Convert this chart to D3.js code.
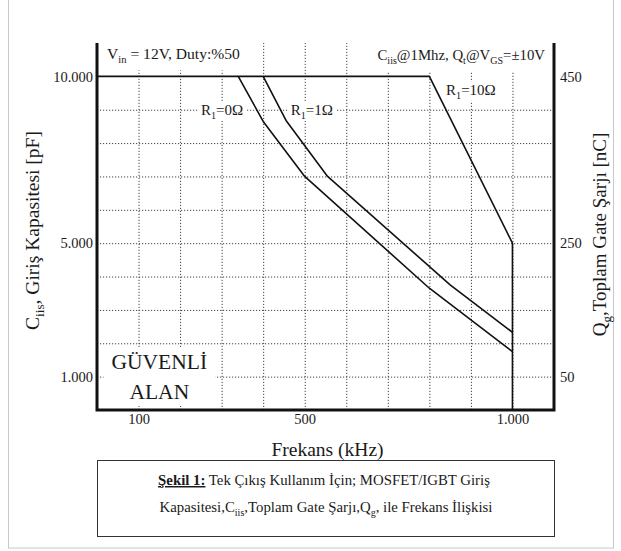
<!DOCTYPE html>
<html lang="tr">
<head>
    <meta charset="UTF-8">
    <title>Şekil 1 - Giriş Kapasitesi / Frekans</title>
    <style>
        body { margin: 0; background: #fff; }
        text { font-family: 'Liberation Serif', 'Times New Roman', serif; fill: #1a1a1a; }
        .grid line { stroke: #444; stroke-width: 1; stroke-dasharray: 1.2 1.8; }
        .grid .domain { display: none; }
        .axis .domain { display: none; }
        .axis text { font-size: 14.5px; }
        .curve { fill: none; stroke: #111; stroke-width: 1.6; stroke-linejoin: round; }
        .frame { fill: none; stroke: #111; stroke-width: 3; }
    </style>
</head>
<body>
    <svg width="621" height="551"></svg>
    <script src="https://d3js.org/d3.v7.min.js"></script>
    <script>

        // ticks and labels
        const freqTicks = [100, 500, 1000];
        const freqLabels = ['100', '500', '1.000'];
        const capTicks = [1000, 5000, 10000];
        const capLabels = ['1.000', '5.000', '10.000'];
        const chargeLabels = ['50', '250', '450'];
        const gridFreq = [100, 200, 300, 400, 500, 600, 700, 800, 900, 1000];
        const gridCap = [1000, 2000, 3000, 4000, 5000, 6000, 7000, 8000, 9000];

        // curves (kHz, pF)
        const r10Freq = [0, 800, 1000, 1000];
        const r10Cap = [10000, 10000, 5000, 0];
        const r0Freq = [340, 400, 500, 800, 1000];
        const r0Cap = [10000, 8650, 7000, 3650, 1750];
        const r1Freq = [400, 455, 555, 850, 1000];
        const r1Cap = [10000, 8680, 7000, 3750, 2330];

        const margin = { left: 97, right: 67, top: 43, bottom: 141 };
        const svg = d3.select('svg');
        const width = +svg.attr('width');
        const height = +svg.attr('height');
        const innerWidth = width - margin.left - margin.right;
        const innerHeight = height - margin.top - margin.bottom;

        const xScale = d3.scaleLinear().domain([0, 1100]).range([0, innerWidth]);
        const yScale = d3.scaleLinear().domain([0, 11000]).range([innerHeight, 0]);

        // faint page border
        svg.append('rect')
            .attr('x', 8.5).attr('y', -1)
            .attr('width', 605).attr('height', 549)
            .attr('fill', 'none').attr('stroke', '#c8c8c8');

        const group = svg.append('g')
            .attr('transform', 'translate(' + margin.left + ' ' + margin.top + ')');

        // dotted grid
        group.append('g')
            .attr('class', 'grid')
            .attr('transform', 'translate(0 ' + innerHeight + ')')
            .call(d3.axisBottom(xScale).tickValues(gridFreq).tickSize(-innerHeight).tickFormat(''));

        group.append('g')
            .attr('class', 'grid')
            .call(d3.axisLeft(yScale).tickValues(gridCap).tickSize(-innerWidth).tickFormat(''));

        // text with sub-scripts, parts = [[text, 'sub'|'b'|undefined], ...]
        function richText(g, x, y, parts, size, anchor) {
            const t = g.append('text')
                .attr('x', x).attr('y', y)
                .attr('font-size', size)
                .attr('text-anchor', anchor || 'start');
            let shift = 0;
            parts.forEach(function (p) {
                const s = t.append('tspan').text(p[0]);
                const want = p[1] === 'sub' ? size * 0.28 : 0;
                s.attr('dy', want - shift);
                shift = want;
                if (p[1] === 'sub') s.attr('font-size', size * 0.68);
                if (p[1] === 'b') s.attr('font-weight', 'bold').style('text-decoration', 'underline');
            });
            return t;
        }

        // white box under a label
        function whiteBox(g, t, padX, padY) {
            const b = t.node().getBBox();
            g.insert('rect', function () { return t.node(); })
                .attr('x', b.x - padX).attr('y', b.y - padY)
                .attr('width', b.width + 2 * padX).attr('height', b.height + 2 * padY)
                .attr('fill', '#fff');
        }

        const labels = group.append('g');

        const vin = richText(labels, 10, 16, [['V'], ['in', 'sub'], [' = 12V, Duty:%50']], 15.6);
        whiteBox(labels, vin, 6, 5);

        const cond = richText(labels, innerWidth - 9, 17,
            [['C'], ['iis', 'sub'], ['@1Mhz, Q'], ['t', 'sub'], ['@V'], ['GS', 'sub'], ['=±10V']], 14.8, 'end');
        whiteBox(labels, cond, 6, 5);

        const lab0 = richText(labels, xScale(301), yScale(8850), [['R'], ['1', 'sub'], ['=0Ω']], 15, 'middle');
        whiteBox(labels, lab0, 3, 0);
        const lab1 = richText(labels, xScale(517), yScale(8850), [['R'], ['1', 'sub'], ['=1Ω']], 15, 'middle');
        whiteBox(labels, lab1, 3, 0);
        const lab10 = richText(labels, xScale(900), yScale(9450), [['R'], ['1', 'sub'], ['=10Ω']], 15, 'middle');
        whiteBox(labels, lab10, 3, 0);

        const safe = labels.append('text')
            .attr('x', xScale(150)).attr('y', yScale(1230))
            .attr('font-size', 21.5)
            .attr('text-anchor', 'middle');
        safe.append('tspan').attr('x', xScale(150)).text('GÜVENLİ');
        safe.append('tspan').attr('x', xScale(150)).attr('dy', 30).text('ALAN');
        whiteBox(labels, safe, 8, 2);

        // curves
        const line = d3.line()
            .x(function (d) { return xScale(d[0]); })
            .y(function (d) { return yScale(d[1]); });

        group.append('path').attr('class', 'curve').attr('stroke-width', 2)
            .attr('d', line(d3.zip(r10Freq, r10Cap)));
        group.append('path').attr('class', 'curve')
            .attr('d', line(d3.zip(r0Freq, r0Cap)));
        group.append('path').attr('class', 'curve')
            .attr('d', line(d3.zip(r1Freq, r1Cap)));

        // frame: left, bottom, right (open top)
        group.append('path').attr('class', 'frame')
            .attr('d', 'M0,0V' + innerHeight + 'H' + innerWidth + 'V0');

        // axes
        group.append('g')
            .attr('class', 'axis')
            .attr('transform', 'translate(0 ' + innerHeight + ')')
            .call(d3.axisBottom(xScale).tickValues(freqTicks).tickSize(0).tickPadding(4)
                .tickFormat(function (d, i) { return freqLabels[i]; }));

        group.append('g')
            .attr('class', 'axis')
            .call(d3.axisLeft(yScale).tickValues(capTicks).tickSize(0).tickPadding(4)
                .tickFormat(function (d, i) { return capLabels[i]; }));

        group.append('g')
            .attr('class', 'axis')
            .attr('transform', 'translate(' + innerWidth + ' 0)')
            .call(d3.axisRight(yScale).tickValues(capTicks).tickSize(0).tickPadding(6)
                .tickFormat(function (d, i) { return chargeLabels[i]; }));

        // axis titles
        richText(group, innerWidth / 2 + 2, innerHeight + 46, [['Frekans (kHz)']], 19.5, 'middle');

        richText(group.append('g').attr('transform', 'translate(-58 ' + (innerHeight / 2 + 4) + ') rotate(-90)'),
            0, 0, [['C'], ['iis', 'sub'], [', Giriş Kapasitesi [pF]']], 19.5, 'middle');

        richText(group.append('g').attr('transform', 'translate(' + (innerWidth + 52) + ' ' + (innerHeight / 2 + 8) + ') rotate(-90)'),
            0, 0, [['Q'], ['g', 'sub'], [',Toplam Gate Şarjı [nC]']], 19, 'middle');

        // caption box
        const cap = svg.append('g');
        cap.append('rect')
            .attr('x', 97.5).attr('y', 460.5)
            .attr('width', 457).attr('height', 76)
            .attr('fill', '#fff').attr('stroke', '#333');
        richText(cap, 324, 485,
            [['Şekil 1:', 'b'], [' Tek Çıkış Kullanım İçin; MOSFET/IGBT Giriş']], 14.8, 'middle');
        richText(cap, 326, 512,
            [['Kapasitesi,C'], ['iis', 'sub'], [',Toplam Gate Şarjı,Q'], ['g', 'sub'], [', ile Frekans İlişkisi']], 14.8, 'middle');

    </script>
</body>
</html>
